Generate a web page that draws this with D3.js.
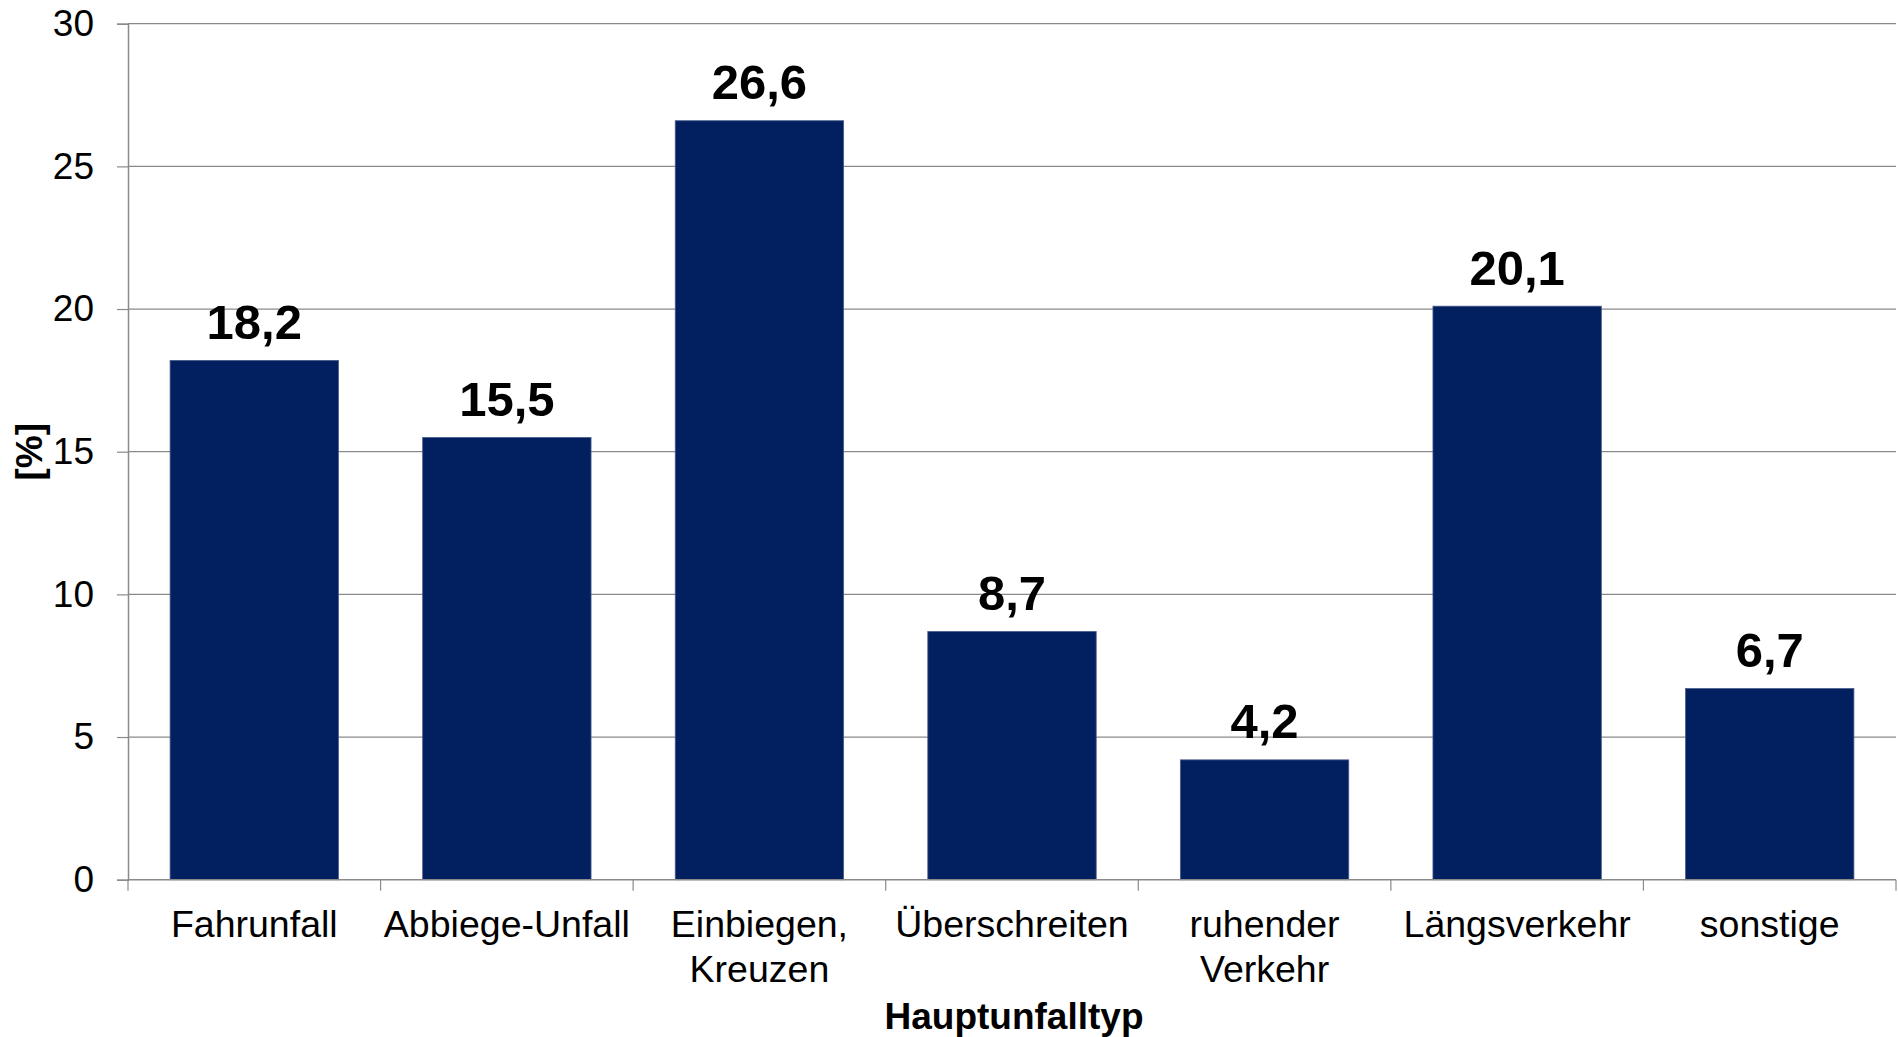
<!DOCTYPE html>
<html><head><meta charset="utf-8">
<script src="https://cdn.jsdelivr.net/npm/d3@7"></script>
<style>
html,body{margin:0;padding:0;background:#fff;}
svg{display:block;font-family:"Liberation Sans",Arial,sans-serif;}
</style></head>
<body>
<svg id="c" width="1898" height="1037"></svg>
<script>
const categories = [["Fahrunfall"],["Abbiege-Unfall"],["Einbiegen,","Kreuzen"],["Überschreiten"],["ruhender","Verkehr"],["Längsverkehr"],["sonstige"]];
const values = [18.2, 15.5, 26.6, 8.7, 4.2, 20.1, 6.7];
const yTicks = [0, 5, 10, 15, 20, 25, 30];
const xTitle = "Hauptunfalltyp";
const yTitle = "[%]";

const svg = d3.select("#c");
const L = 128, R = 1896, T = 23.7, B = 879.7;
const keys = categories.map(c => c.join(" "));
const x = d3.scaleBand().domain(keys).range([L, R]).paddingInner(1/3).paddingOuter(1/6);
const y = d3.scaleLinear().domain([0, 30]).range([B, T]);
const gray = "#8a8a8a";

// gridlines
svg.append("g").selectAll("line").data(yTicks.filter(t => t > 0)).join("line")
  .attr("x1", L).attr("x2", R).attr("y1", d => y(d)).attr("y2", d => y(d))
  .attr("stroke", gray).attr("stroke-width", 1.2);

// bars
svg.append("g").selectAll("rect").data(values).join("rect")
  .attr("x", (d, i) => x(keys[i])).attr("width", x.bandwidth())
  .attr("y", d => y(d)).attr("height", d => B - y(d))
  .attr("fill", "#022060").attr("stroke", "#4a5c8c").attr("stroke-width", 0.8);

// y axis
const ya = svg.append("g").attr("transform", `translate(${L},0)`)
  .call(d3.axisLeft(y).tickValues(yTicks).tickSize(11).tickPadding(23).tickFormat(d3.format("d")));
ya.select(".domain").attr("stroke", gray).attr("stroke-width", 1.5);
ya.selectAll(".tick line").attr("stroke", gray).attr("stroke-width", 1.2);
ya.selectAll(".tick text").attr("font-size", 37).attr("fill", "#000").attr("font-family", "Liberation Sans, Arial, sans-serif");

// x axis line and boundary ticks
svg.append("line").attr("x1", L).attr("x2", R).attr("y1", B).attr("y2", B)
  .attr("stroke", gray).attr("stroke-width", 1.5);
const bounds = keys.map((k, i) => L + i * x.step());
bounds.push(R);
svg.append("g").selectAll("line").data(bounds).join("line")
  .attr("x1", d => d).attr("x2", d => d).attr("y1", B).attr("y2", B + 11)
  .attr("stroke", gray).attr("stroke-width", 1.2);

// category labels
const cl = svg.append("g").selectAll("text").data(categories).join("text")
  .attr("x", (d, i) => x(keys[i]) + x.bandwidth() / 2).attr("y", 937)
  .attr("text-anchor", "middle").attr("font-size", 37.5).attr("fill", "#000");
cl.each(function(d) {
  const t = d3.select(this);
  d.forEach((line, j) => t.append("tspan").attr("x", t.attr("x")).attr("dy", j === 0 ? 0 : 45).text(line));
});

// value labels
svg.append("g").selectAll("text").data(values).join("text")
  .attr("x", (d, i) => x(keys[i]) + x.bandwidth() / 2).attr("y", d => y(d) - 21.5)
  .attr("text-anchor", "middle").attr("font-size", 49).attr("font-weight", "bold").attr("fill", "#000")
  .text(d => d3.format(".1f")(d).replace(".", ","));

// axis titles
svg.append("text").attr("x", (L + R) / 2 + 2).attr("y", 1029).attr("text-anchor", "middle")
  .attr("font-size", 37).attr("font-weight", "bold").text(xTitle);
svg.append("text").attr("transform", `translate(42,${(T + B) / 2}) rotate(-90)`).attr("text-anchor", "middle")
  .attr("font-size", 37).attr("font-weight", "bold").text(yTitle);
</script>
</body></html>
